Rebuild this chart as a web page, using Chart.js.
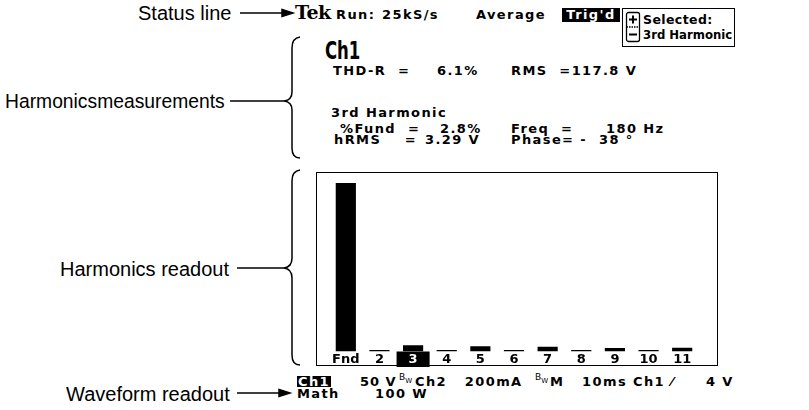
<!DOCTYPE html>
<html>
<head>
<meta charset="utf-8">
<script src="https://cdn.jsdelivr.net/npm/chart.js@4.4.0/dist/chart.umd.min.js"></script>
<style>
  body { margin: 0; background: #fff; }
  #page { position: relative; width: 809px; height: 410px; overflow: hidden; background: #fff; }
  .t { position: absolute; white-space: pre; color: #000; }
  .note { font-family: "Liberation Sans", Arial, sans-serif; font-size: 20px; line-height: 20px; }
  .scr { font-family: "DejaVu Sans", sans-serif; font-weight: bold; font-size: 13px; line-height: 13px; letter-spacing: 1.4px; }
  .inv { background: #000; color: #fff; }
  #box { position: absolute; left: 316px; top: 172px; width: 400px; height: 192px; border: 1.5px solid #000; }
  #sel { position: absolute; left: 622px; top: 8px; width: 111px; height: 37px; border: 1.5px solid #000; }
  #holder { position: absolute; left: 316px; top: 172px; width: 403px; height: 195px; }
</style>
</head>
<body>
<div id="page">
  <svg width="809" height="410" style="position:absolute;left:0;top:0" fill="none" stroke="#000" stroke-width="1.5">
    <!-- arrows -->
    <line x1="240" y1="13" x2="284" y2="13"/>
    <polygon points="282,9.5 293,13 282,16.5" fill="#000"/>
    <line x1="237" y1="393" x2="280" y2="393"/>
    <polygon points="279,389.5 290,393 279,396.5" fill="#000"/>
    <!-- lines to braces -->
    <line x1="230" y1="101" x2="284" y2="101"/>
    <line x1="237" y1="268" x2="284" y2="268"/>
    <!-- braces -->
    <path d="M300,37 Q292,38 292,48 L292,92 Q292,100 284,101 Q292,102 292,110 L292,148 Q292,158 300,158"/>
    <path d="M300,170 Q292,171 292,181 L292,258 Q292,267 284,268 Q292,269 292,278 L292,355 Q292,365 300,365"/>
  </svg>

  <span class="t note" style="left:138px;top:3px">Status line</span>
  <span class="t note" style="left:5px;top:92px;font-size:19.3px">Harmonicsmeasurements</span>
  <span class="t note" style="left:60px;top:259px">Harmonics readout</span>
  <span class="t note" style="left:66px;top:384px">Waveform readout</span>

  <!-- status line -->
  <span class="t" style="left:295px;top:3px;font-family:'DejaVu Serif',serif;font-weight:bold;font-size:19px;line-height:19px;letter-spacing:-0.5px">Tek</span>
  <span class="t scr" style="left:336px;top:8px">Run:</span>
  <span class="t scr" style="left:382px;top:8px">25kS/s</span>
  <span class="t scr" style="left:476px;top:8px">Average</span>
  <span class="t scr inv" style="left:562px;top:8px;width:54px;padding:0 2px 1px 2px;text-align:center">Trig'd</span>
  <div id="sel"></div>
  <svg width="20" height="36" style="position:absolute;left:625px;top:10px" fill="none" stroke="#000" stroke-width="1.3">
    <rect x="1.5" y="2.5" width="13" height="29" rx="2"/>
    <line x1="1.5" y1="17" x2="14.5" y2="17" stroke-dasharray="1.5,1"/>
    <line x1="8" y1="5.5" x2="8" y2="13.5" stroke-width="2"/>
    <line x1="4" y1="9.5" x2="12" y2="9.5" stroke-width="2"/>
    <line x1="4" y1="24.5" x2="12" y2="24.5" stroke-width="2"/>
  </svg>
  <span class="t scr" style="left:643px;top:13px;font-size:12.5px;letter-spacing:0.4px">Selected:</span>
  <span class="t scr" style="left:643px;top:29px;font-size:11.7px;letter-spacing:0px">3rd Harmonic</span>

  <!-- measurements -->
  <span class="t" style="left:325px;top:38px;font-family:'DejaVu Sans',sans-serif;font-weight:bold;font-size:25px;line-height:25px;transform:scaleX(0.66);transform-origin:left top">Ch1</span>
  <span class="t scr" style="left:333px;top:64px">THD-R  =</span>
  <span class="t scr" style="left:437px;top:64px">6.1%</span>
  <span class="t scr" style="left:511px;top:64px">RMS  =117.8 V</span>
  <span class="t scr" style="left:331px;top:106px">3rd Harmonic</span>
  <span class="t scr" style="left:340px;top:122px">%Fund  =</span>
  <span class="t scr" style="left:440px;top:122px">2.8%</span>
  <span class="t scr" style="left:511px;top:122px">Freq  =</span>
  <span class="t scr" style="left:606px;top:122px">180 Hz</span>
  <span class="t scr" style="left:334px;top:133px">hRMS    =</span>
  <span class="t scr" style="left:425px;top:133px">3.29 V</span>
  <span class="t scr" style="left:511px;top:133px">Phase= -  38 °</span>

  <!-- harmonics bar readout -->
  <div id="box"></div>
  <div id="holder">
    <canvas id="chart" width="403" height="195"></canvas>
  </div>

  <!-- waveform readout -->
  <span class="t scr inv" style="left:297px;top:376px;line-height:11px;padding:0 1px">Ch1</span>
  <span class="t scr" style="left:360px;top:375px;letter-spacing:1px">50 V</span>
  <span class="t" style="left:399px;top:373px;font-family:'DejaVu Sans',sans-serif;font-size:9px;line-height:9px">B<span style="font-size:7px;vertical-align:-3px">W</span></span>
  <span class="t scr" style="left:415px;top:375px">Ch2   200mA</span>
  <span class="t" style="left:535px;top:373px;font-family:'DejaVu Sans',sans-serif;font-size:9px;line-height:9px">B<span style="font-size:7px;vertical-align:-3px">W</span></span>
  <span class="t scr" style="left:550px;top:375px">M   10ms Ch1 ⁄</span>
  <span class="t scr" style="left:706px;top:375px">4 V</span>
  <span class="t scr" style="left:297px;top:387px">Math</span>
  <span class="t scr" style="left:375px;top:387px">100 W</span>
</div>

<script>
// harmonic bar readout data (percent of fundamental)
const harmonicLabels = ['Fnd', '2', '3', '4', '5', '6', '7', '8', '9', '10', '11'];
const harmonicValues = [100, 0.8, 3.6, 0.8, 3.0, 0.8, 2.7, 0.8, 2.0, 0.8, 2.2];
const selectedIndex = 2;

const ctx = document.getElementById('chart').getContext('2d');
new Chart(ctx, {
    type: 'bar',
    data: {
        labels: harmonicLabels,
        datasets: [{
            data: harmonicValues,
            backgroundColor: '#000',
            borderWidth: 0,
            categoryPercentage: 1,
            barPercentage: 0.6
        }]
    },
    options: {
        responsive: false,
        animation: false,
        devicePixelRatio: 1,
        layout: { padding: { left: 13, right: 20, top: 11, bottom: 0 } },
        plugins: { legend: { display: false }, tooltip: { enabled: false } },
        scales: {
            x: {
                border: { display: false },
                grid: { display: false, drawTicks: false },
                ticks: {
                    padding: 0,
                    font: { family: 'DejaVu Sans', weight: 'bold', size: 13 },
                    color: c => c.index === selectedIndex ? '#fff' : '#000',
                    showLabelBackdrop: c => c.index === selectedIndex,
                    backdropColor: c => c.index === selectedIndex ? '#000' : 'rgba(0,0,0,0)',
                    backdropPadding: { top: 1, bottom: 3, left: 12, right: 12 }
                }
            },
            y: {
                display: false,
                min: 0,
                max: 100
            }
        }
    }
});
</script>
</body>
</html>
